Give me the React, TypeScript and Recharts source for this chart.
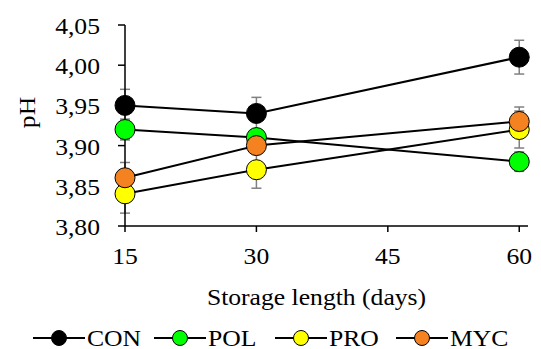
import React from 'react';
import { LineChart, Line, XAxis, YAxis, ErrorBar } from 'recharts';

// storage days and pH means with their standard errors
const days = [15, 30, 60];
const conValues = [3.95, 3.94, 4.01];
const polValues = [3.92, 3.91, 3.88];
const proValues = [3.84, 3.87, 3.92];
const mycValues = [3.86, 3.9, 3.93];
const conErr = [0.02, 0.02, 0.021];
const polErr = [0.013, 0.01, 0.012];
const proErr = [0.024, 0.023, 0.023];
const mycErr = [0.019, 0.01, 0.018];

const xTicks = [15, 30, 45, 60];
const yTicks = [3.8, 3.85, 3.9, 3.95, 4.0, 4.05];

const series = [
  { key: 'CON', color: '#000000' },
  { key: 'POL', color: '#00FF00' },
  { key: 'PRO', color: '#FFFF00' },
  { key: 'MYC', color: '#F58220' },
];

const data = days.map((d, i) => ({
  day: d,
  CON: conValues[i],
  CONerr: conErr[i],
  POL: polValues[i],
  POLerr: polErr[i],
  PRO: proValues[i],
  PROerr: proErr[i],
  MYC: mycValues[i],
  MYCerr: mycErr[i],
}));

const font = '"Liberation Serif", serif';
const fs = 22.5;
const sx = 1.14; // the original glyphs run a bit wider than Liberation Serif

const fmt = (v: number) => v.toFixed(2).replace('.', ',');

const XTick = (props: any) => {
  const { x, y, payload } = props;
  return (
    <text transform={`translate(${x},${y}) scale(${sx},1)`} textAnchor="middle" dy="0.71em"
      fontFamily={font} fontSize={fs} fill="#000">
      {payload.value}
    </text>
  );
};

const YTick = (props: any) => {
  const { x, y, payload } = props;
  return (
    <text transform={`translate(${x},${y + 1}) scale(${sx},1)`} textAnchor="end" dy="0.355em"
      fontFamily={font} fontSize={fs} fill="#000">
      {fmt(payload.value)}
    </text>
  );
};

const YTitle = (props: any) => {
  const vb = props.viewBox || {};
  const x = vb.x + 28;
  const y = vb.y + vb.height / 2 - 13;
  return (
    <text transform={`translate(${x},${y}) rotate(-90) scale(${sx},1)`} textAnchor="middle" dominantBaseline="central"
      fontFamily={font} fontSize={fs} fill="#000">
      pH
    </text>
  );
};

const XTitle = (props: any) => {
  const vb = props.viewBox || {};
  const x = vb.x + vb.width / 2 - 10;
  const y = vb.y + 79;
  return (
    <text transform={`translate(${x},${y}) scale(${sx},1)`} textAnchor="middle" fontFamily={font} fontSize={fs} fill="#000">
      Storage length (days)
    </text>
  );
};

const App: React.FC = () => {
  return (
    <div style={{ position: 'absolute', left: 0, top: 0, width: 541, height: 349, background: '#fff' }}>
      <LineChart width={541} height={349} data={data} margin={{ top: 25, right: 13, left: 0, bottom: 43 }}>
        <XAxis
          dataKey="day"
          type="number"
          domain={[15, 61]}
          ticks={xTicks}
          tick={<XTick />}
          tickSize={6}
          tickMargin={16}
          height={80}
          stroke="#000"
          strokeWidth={1.5}
          label={<XTitle />}
        />
        <YAxis
          type="number"
          domain={[3.8, 4.05]}
          ticks={yTicks}
          tick={<YTick />}
          tickSize={7}
          tickMargin={18}
          width={125}
          stroke="#000"
          strokeWidth={1.5}
          label={<YTitle />}
        />
        {series.map((s) => (
          <Line
            key={s.key}
            dataKey={s.key}
            stroke="#000"
            strokeWidth={2}
            dot={{ r: 10, fill: s.color, stroke: '#000', strokeWidth: 1 }}
            isAnimationActive={false}
          >
            <ErrorBar dataKey={`${s.key}err`} width={5} stroke="#808080" strokeWidth={1.5} direction="y" />
          </Line>
        ))}
      </LineChart>
      {/* legend */}
      <svg width={541} height={24} style={{ position: 'absolute', left: 0, top: 325 }}>
        {series.map((s, i) => (
          <g key={s.key} transform={`translate(${33 + i * 121},0)`}>
            <line x1={0} y1={13} x2={52} y2={13} stroke="#000" strokeWidth={2} />
            <circle cx={26} cy={13} r={7.5} fill={s.color} stroke="#000" strokeWidth={1} />
            <text transform={`translate(54,21) scale(${sx},1)`} fontFamily={font} fontSize={fs} fill="#000">
              {s.key}
            </text>
          </g>
        ))}
      </svg>
    </div>
  );
};

export default App;
